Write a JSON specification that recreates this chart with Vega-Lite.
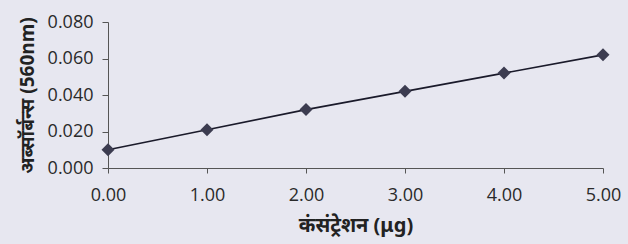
{
  "$schema": "https://vega.github.io/schema/vega-lite/v6.json",
  "autosize": {"type": "none"},
  "width": 495,
  "height": 146,
  "padding": {"left": 108, "top": 22, "right": 25, "bottom": 76},
  "background": "#e7e7f0",
  "config": {"view": {"stroke": null}, "font": "Open Sans"},
  "data": {"values": [
    {"conc": 0, "abs": 0.010},
    {"conc": 1, "abs": 0.021},
    {"conc": 2, "abs": 0.032},
    {"conc": 3, "abs": 0.042},
    {"conc": 4, "abs": 0.052},
    {"conc": 5, "abs": 0.062}
  ]},
  "encoding": {
    "x": {"field": "conc", "type": "quantitative",
      "scale": {"domain": [0, 5], "nice": false, "zero": false},
      "axis": {"values": [0, 1, 2, 3, 4, 5], "format": ".2f", "grid": false,
        "title": "कंसंट्रेशन (μg)", "titleFont": "Noto Sans", "titleFontSize": 20, "titleFontWeight": "bold", "titleColor": "#222",
        "titlePadding": 11,
        "labelFontSize": 18, "labelColor": "#2a2a2a", "labelPadding": 13, "labelFont": "Open Sans", "labelFlush": false,
        "domainColor": "#555", "tickColor": "#555", "tickSize": 5}},
    "y": {"field": "abs", "type": "quantitative",
      "scale": {"domain": [0, 0.08], "nice": false},
      "axis": {"values": [0, 0.02, 0.04, 0.06, 0.08], "format": ".3f", "grid": false,
        "title": "अब्सॉर्बन्स (560nm)", "titleFont": "Noto Sans", "titleFontSize": 19, "titleFontWeight": "bold", "titleColor": "#222",
        "titlePadding": 10,
        "labelFontSize": 18, "labelColor": "#2a2a2a", "labelPadding": 9, "labelFont": "Open Sans",
        "domainColor": "#555", "tickColor": "#555", "tickSize": 6}}
  },
  "layer": [
    {"mark": {"type": "line", "color": "#1a1a2a", "strokeWidth": 1.6}},
    {"mark": {"type": "point", "shape": "diamond", "filled": true, "size": 170, "color": "#3c3c50", "opacity": 1}}
  ]
}
